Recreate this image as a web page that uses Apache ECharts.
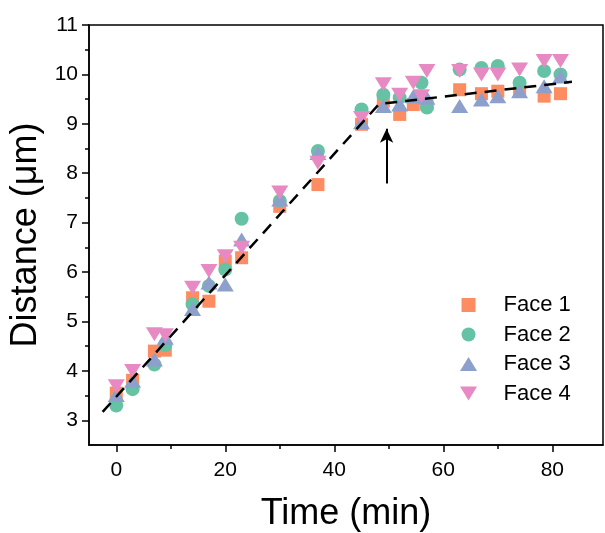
<!DOCTYPE html>
<html>
<head>
<meta charset="utf-8">
<script src="https://cdn.jsdelivr.net/npm/echarts@6/dist/echarts.min.js"></script>
<style>html,body{margin:0;padding:0;background:#fff}#c{width:605px;height:533px}</style>
</head>
<body>
<div id="c"></div>
<script>
// ---- data ----
const face1T = [0, 3, 7, 9, 14, 17, 20, 23, 30, 37, 45, 49, 52, 54.5, 57, 63, 67, 70, 74, 78.5, 81.5];
const face1V = [3.55, 3.81, 4.40, 4.42, 5.48, 5.41, 6.22, 6.29, 7.33, 7.77, 8.99, 9.46, 9.19, 9.39, 9.40, 9.69, 9.61, 9.66, 9.69, 9.56, 9.61];
const face2T = [0, 3, 7, 9, 14, 17, 20, 23, 30, 37, 45, 49, 52, 56, 57, 63, 67, 70, 74, 78.5, 81.5];
const face2V = [3.30, 3.63, 4.13, 4.52, 5.35, 5.72, 6.05, 7.08, 7.44, 8.45, 9.29, 9.59, 9.53, 9.83, 9.33, 10.10, 10.13, 10.17, 9.83, 10.07, 10.00];
const face3T = [0, 3, 7, 9, 14, 17, 20, 23, 30, 37, 45, 49, 52, 54.5, 57, 63, 67, 70, 74, 78.5, 81.5];
const face3V = [3.51, 3.80, 4.23, 4.67, 5.25, 5.79, 5.75, 6.66, 7.47, 8.41, 9.03, 9.36, 9.39, 9.56, 9.53, 9.36, 9.49, 9.56, 9.66, 9.76, 9.96];
const face4T = [0, 3, 7, 9, 14, 17, 20, 23, 30, 37, 45, 49, 52, 54.5, 56, 57, 63, 67, 70, 74, 78.5, 81.5];
const face4V = [3.69, 4.00, 4.74, 4.72, 5.68, 6.02, 6.32, 6.49, 7.61, 8.21, 9.12, 9.80, 9.59, 9.83, 9.56, 10.07, 10.07, 10.00, 10.00, 10.10, 10.27, 10.27];
const fitT = [-2.5, 48.2, 83.6];
const fitV = [3.17, 9.40, 9.85];
const arrowT = 49.6;
const arrowV = [7.79, 8.9];
const seriesNames = ['Face 1', 'Face 2', 'Face 3', 'Face 4'];
const xTickLabels = [0, 20, 40, 60, 80];
const xMinorTicks = [10, 30, 50, 70];
const yTickLabels = [3, 4, 5, 6, 7, 8, 9, 10, 11];
const yMinorTicks = [3.5, 4.5, 5.5, 6.5, 7.5, 8.5, 9.5, 10.5];

// ---- styling ----
const FONT = 'Liberation Sans, Arial, sans-serif';
const colors = ['#FC8D62', '#66C2A5', '#8DA0CB', '#E78AC3'];
const pair = (t, v) => t.map((x, i) => [x, v[i]]);
const SQ = 'path://M0,0H10V10H0Z';
const UP = 'path://M5,0L10,8.2L0,8.2Z';
const DOWN = 'path://M0,0L10,0L5,8.2Z';

const chart = echarts.init(document.getElementById('c'), null, {renderer: 'canvas'});
const axisCommon = {
  axisLine: {show: true, onZero: false, lineStyle: {color: '#000', width: 1.5}},
  splitLine: {show: false}
};
chart.setOption({
  animation: false,
  backgroundColor: '#fff',
  grid: {left: 89, right: 2, top: 25, bottom: 88, show: true, borderColor: '#000', borderWidth: 1.5,
         containLabel: false, outerBoundsMode: 'none'},
  xAxis: [
    Object.assign({}, axisCommon, {
      type: 'value', min: -5, max: 89.3,
      axisTick: {show: true, customValues: xTickLabels, length: 7, lineStyle: {color: '#000', width: 1.5}},
      axisLabel: {customValues: xTickLabels, fontSize: 21, color: '#000', fontFamily: FONT, margin: 15},
      name: 'Time (min)', nameLocation: 'middle', nameGap: 51,
      nameTextStyle: {fontSize: 36, color: '#000', fontFamily: FONT}
    }),
    {
      type: 'value', min: -5, max: 89.3, position: 'bottom',
      axisLine: {show: false, onZero: false},
      axisTick: {show: true, customValues: xMinorTicks, length: 4, lineStyle: {color: '#000', width: 1.5}},
      axisLabel: {show: false}, splitLine: {show: false}
    }
  ],
  yAxis: [
    Object.assign({}, axisCommon, {
      type: 'value', min: 2.5, max: 11,
      axisTick: {show: true, customValues: yTickLabels, length: 7, lineStyle: {color: '#000', width: 1.5}},
      axisLabel: {customValues: yTickLabels, fontSize: 21, color: '#000', fontFamily: FONT, margin: 11},
      name: 'Distance (μm)', nameLocation: 'middle', nameGap: 36,
      nameTextStyle: {fontSize: 36, color: '#000', fontFamily: FONT}
    }),
    {
      type: 'value', min: 2.5, max: 11, position: 'left',
      axisLine: {show: false, onZero: false},
      axisTick: {show: true, customValues: yMinorTicks, length: 4, lineStyle: {color: '#000', width: 1.5}},
      axisLabel: {show: false}, splitLine: {show: false}
    }
  ],
  legend: {
    orient: 'vertical', left: 455, top: 289, itemWidth: 60, itemHeight: 14, itemGap: 7.5,
    symbolKeepAspect: true,
    textStyle: {fontSize: 22, lineHeight: 21, color: '#000', fontFamily: FONT},
    data: [
      {name: seriesNames[0], icon: SQ},
      {name: seriesNames[1], icon: 'circle'},
      {name: seriesNames[2], icon: UP},
      {name: seriesNames[3], icon: DOWN}
    ]
  },
  series: [
    {name: seriesNames[0], type: 'scatter', data: pair(face1T, face1V), symbol: 'rect', symbolSize: 13, itemStyle: {color: colors[0], opacity: 1}, z: 2},
    {name: seriesNames[1], type: 'scatter', data: pair(face2T, face2V), symbol: 'circle', symbolSize: 14, itemStyle: {color: colors[1], opacity: 1}, z: 3},
    {name: seriesNames[2], type: 'scatter', data: pair(face3T, face3V), symbol: 'triangle', symbolSize: [17, 14], itemStyle: {color: colors[2], opacity: 1}, z: 4},
    {name: seriesNames[3], type: 'scatter', data: pair(face4T, face4V), symbol: DOWN, symbolSize: [17, 14], symbolKeepAspect: false, itemStyle: {color: colors[3], opacity: 1}, z: 5},
    {
      name: 'fit', type: 'line', data: pair(fitT, fitV), symbol: 'none', z: 6,
      lineStyle: {color: '#000', width: 2.5, type: [12, 8]},
      markLine: {
        silent: true, symbol: ['none', 'arrow'], symbolSize: [10, 14],
        label: {show: false},
        lineStyle: {color: '#000', width: 2, type: 'solid'},
        data: [[{coord: [arrowT, arrowV[0]]}, {coord: [arrowT, arrowV[1]]}]]
      }
    }
  ]
});
</script>
</body>
</html>
